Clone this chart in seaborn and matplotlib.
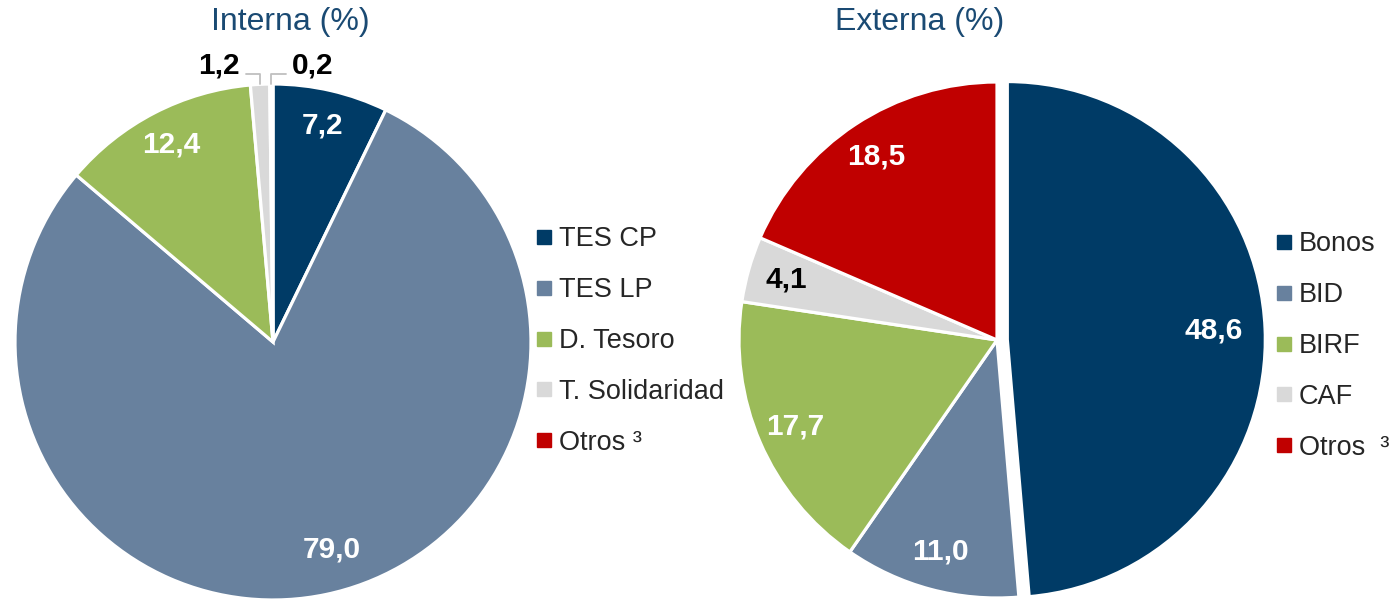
import numpy as np
import matplotlib
matplotlib.use("Agg")
import matplotlib.pyplot as plt
from matplotlib.lines import Line2D
import seaborn as sns

sns.set_theme(style="white")
plt.rcParams['font.family'] = ['Liberation Sans', 'DejaVu Sans']

# data
int_labels = ['TES CP', 'TES LP', 'D. Tesoro', 'T. Solidaridad', 'Otros ³']
int_values = [7.2, 79.0, 12.4, 1.2, 0.2]
ext_labels = ['Bonos', 'BID', 'BIRF', 'CAF', 'Otros  ³']
ext_values = [48.6, 11.0, 17.7, 4.1, 18.5]

colors = ['#003B66', '#68819E', '#9BBB59', '#D9D9D9', '#C00000']
title_color = '#1A4A73'

W, H = 1390, 603
fig = plt.figure(figsize=(W / 100, H / 100), dpi=100)

R = 258  # pie radius in px
LIM = 1.15


def pie_axes(cx, cy):
    half = R * LIM
    ax = fig.add_axes([(cx - half) / W, (H - cy - half) / H, 2 * half / W, 2 * half / H])
    ax.axis('off')
    return ax


def fix_limits(ax):
    ax.set_xlim(-LIM, LIM)
    ax.set_ylim(-LIM, LIM)
    ax.set_aspect('equal')


def fmt(v):
    return f'{v:.1f}'.replace('.', ',')


# ---- Interna
ax1 = pie_axes(273, 342)
w1, _ = ax1.pie(int_values, colors=colors, startangle=90, counterclock=False,
                radius=1, wedgeprops=dict(edgecolor='white', linewidth=2.3))
fix_limits(ax1)
for i, (w, v) in enumerate(zip(w1, int_values)):
    mid = np.deg2rad((w.theta1 + w.theta2) / 2)
    if v >= 5:
        d = 0.82 if v > 50 else 0.86
        ax1.text(d * np.cos(mid) + (0.06 if v > 50 else 0), d * np.sin(mid), fmt(v),
                 color='white', fontsize=21.5, fontweight='bold',
                 ha='center', va='center')
    else:
        x0, y0 = np.cos(mid), np.sin(mid)
        side = -1 if i == 3 else 1
        xe = x0 + side * 0.055
        ax1.plot([x0, x0, xe], [y0, 1.04, 1.04], color='#BFBFBF', lw=1.3,
                 clip_on=False)
        ax1.text(xe + side * 0.025, 1.07, fmt(v), color='black', fontsize=21.5,
                 fontweight='bold', ha='right' if side < 0 else 'left', va='center')

# ---- Externa
ax2 = pie_axes(997, 340)
w2, _ = ax2.pie(ext_values, colors=colors, startangle=90, counterclock=False,
                radius=1, explode=[0.04, 0, 0, 0, 0],
                wedgeprops=dict(edgecolor='white', linewidth=2.3))
fix_limits(ax2)
for i, (w, v) in enumerate(zip(w2, ext_values)):
    mid = np.deg2rad((w.theta1 + w.theta2) / 2)
    ox, oy = w.center
    d = 0.80 if i == 0 else 0.85
    ax2.text(ox + d * np.cos(mid), oy + d * np.sin(mid), fmt(v),
             color='black' if i == 3 else 'white',
             fontsize=21.5, fontweight='bold', ha='center', va='center')

# titles
fig.text(290 / W, 1 - 22 / H, 'Interna (%)', color=title_color, fontsize=23,
         ha='center', va='center')
fig.text(920 / W, 1 - 22 / H, 'Externa (%)', color=title_color, fontsize=23,
         ha='center', va='center')


def legend(labels, x, y):
    handles = [Line2D([], [], marker='s', linestyle='none', markersize=9.5,
                      markerfacecolor=c, markeredgecolor=c) for c in colors]
    fig.legend(handles, labels, loc='center left', bbox_to_anchor=(x / W, 1 - y / H),
               frameon=False, fontsize=19.5, handlelength=0.5, handletextpad=0.3,
               labelspacing=0.92, borderpad=0, borderaxespad=0)


legend(int_labels, 537, 341)
legend(ext_labels, 1277, 346)

fig.savefig('out.png', dpi=100)
